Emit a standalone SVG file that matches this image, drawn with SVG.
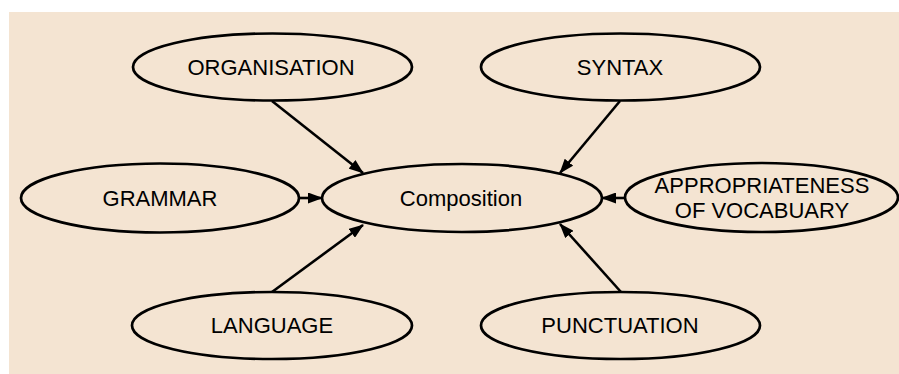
<svg xmlns="http://www.w3.org/2000/svg" width="899" height="374" viewBox="0 0 899 374">
<style>
.node ellipse{fill:none;stroke:#000;stroke-width:2.7}
.node text{font-family:"Liberation Sans",Arial,sans-serif;font-size:22px;fill:#000;text-anchor:middle}
.edges line{stroke:#000;stroke-width:2.6}
</style>
<defs>
<marker id="arr" viewBox="0 0 15 11" refX="14" refY="5.5" markerWidth="15" markerHeight="11" markerUnits="userSpaceOnUse" orient="auto">
<path d="M0,0 L15,5.5 L0,11 z" fill="#000"/>
</marker>
</defs>
<rect x="0" y="0" width="899" height="374" fill="#ffffff"/>
<rect x="9" y="12" width="890" height="362" fill="#f4e4d2"/>
<g class="edges">
<line x1="272" y1="101" x2="363" y2="173" marker-end="url(#arr)"/>
<line x1="620" y1="101" x2="560" y2="173" marker-end="url(#arr)"/>
<line x1="299" y1="198" x2="322" y2="198" marker-end="url(#arr)"/>
<line x1="625" y1="198" x2="602" y2="198" marker-end="url(#arr)"/>
<line x1="272" y1="292" x2="363" y2="225" marker-end="url(#arr)"/>
<line x1="621" y1="292" x2="560" y2="224" marker-end="url(#arr)"/>
</g>
<g id="composition" class="node"><ellipse cx="462" cy="198" rx="140" ry="34"/><text x="461" y="206">Composition</text></g>
<g id="organisation" class="node"><ellipse cx="272.5" cy="67" rx="139.5" ry="33.5"/><text x="271" y="75">ORGANISATION</text></g>
<g id="syntax" class="node"><ellipse cx="620.5" cy="67" rx="139.5" ry="33.5"/><text x="620" y="75">SYNTAX</text></g>
<g id="grammar" class="node"><ellipse cx="160" cy="198" rx="139" ry="34.5"/><text x="160" y="206">GRAMMAR</text></g>
<g id="appropriateness" class="node"><ellipse cx="761.5" cy="197.5" rx="136.5" ry="34.5"/><text x="762" y="193">APPROPRIATENESS</text><text x="762" y="218">OF VOCABUARY</text></g>
<g id="language" class="node"><ellipse cx="272" cy="325.5" rx="140" ry="33.5"/><text x="272" y="333">LANGUAGE</text></g>
<g id="punctuation" class="node"><ellipse cx="620.5" cy="325.5" rx="139.5" ry="33.5"/><text x="620" y="333">PUNCTUATION</text></g>
</svg>
